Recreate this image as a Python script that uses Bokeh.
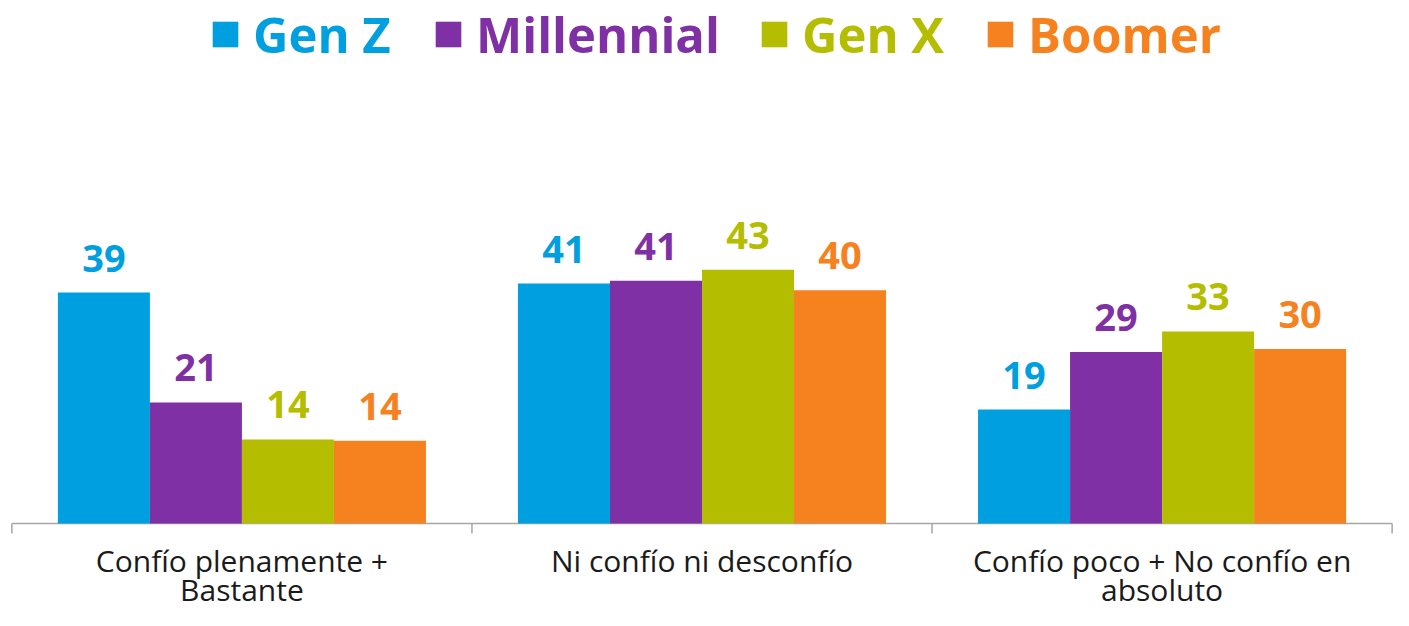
from bokeh.plotting import figure
from bokeh.models import ColumnDataSource, FactorRange, Range1d, LabelSet, Legend, LegendItem
from bokeh.transform import dodge
from bokeh.core.properties import value
from bokeh.embed import file_html
from bokeh.resources import INLINE

# ---------------- data ----------------
categories = [
    "Confío plenamente + Bastante",
    "Ni confío ni desconfío",
    "Confío poco + No confío en absoluto",
]
category_line1 = ["Confío plenamente +", "Ni confío ni desconfío", "Confío poco + No confío en"]
category_line2 = ["Bastante", "", "absoluto"]
series_names = ["Gen Z", "Millennial", "Gen X", "Boomer"]
gen_z = [39.3, 40.85, 19.4]
millennial = [20.6, 41.3, 29.2]
gen_x = [14.3, 43.2, 32.7]
boomer = [14.1, 39.7, 29.7]
series_values = [gen_z, millennial, gen_x, boomer]
colors = ["#009FDF", "#7F30A5", "#B5BD00", "#F5821F"]

FONT = "Open Sans"
PX = 5.875            # pixels per unit
H = 610
BASE = 523            # baseline position from top of figure

p = figure(
    x_range=FactorRange(factors=categories, range_padding=0.002),
    y_range=Range1d(-(H - BASE) / PX, BASE / PX),
    width=1393, height=H,
    output_backend="svg", toolbar_location=None,
    x_axis_location=None, y_axis_location=None,
    min_border_left=10, min_border_right=0, min_border_top=0, min_border_bottom=0,
    outline_line_color=None,
)
p.grid.visible = False

# baseline and category boundary ticks
n = len(categories)
p.segment(x0=[0], x1=[n], y0=[0], y1=[0], line_color="#A6A6A6", line_width=1.5)
bounds = list(range(n + 1))
p.segment(x0=bounds, x1=bounds, y0=[0] * len(bounds), y1=[-10 / PX] * len(bounds),
          line_color="#A6A6A6", line_width=1.5)

# category labels (two lines)
lab_src = ColumnDataSource(dict(cat=categories, l1=category_line1, l2=category_line2))
p.text(x="cat", y=-37 / PX, text="l1", source=lab_src, text_align="center",
       text_baseline="alphabetic", text_font=value(FONT), text_font_size="30px",
       text_color="#1A1A1A")
p.text(x="cat", y=-66 / PX, text="l2", source=lab_src, text_align="center",
       text_baseline="alphabetic", text_font=value(FONT), text_font_size="30px",
       text_color="#1A1A1A")

offsets = [-0.3, -0.1, 0.1, 0.3]
legend_x = [199, 422, 748, 974]
for name, vals, col, off, lx in zip(series_names, series_values, colors, offsets, legend_x):
    src = ColumnDataSource(dict(cat=categories, val=vals, lab=[str(round(v)) for v in vals]))
    r = p.vbar(x=dodge("cat", off, range=p.x_range), top="val", width=0.2, source=src,
               fill_color=col, line_color=None)
    ls = LabelSet(x=dodge("cat", off, range=p.x_range), y="val", text="lab", source=src,
                  y_offset=21, text_align="center", text_baseline="alphabetic",
                  text_font=value(FONT), text_font_size="38px", text_font_style="bold",
                  text_color=col)
    p.add_layout(ls)
    leg = Legend(items=[LegendItem(label=name, renderers=[r])], location=(lx, 543),
                 orientation="horizontal", padding=0, margin=0,
                 glyph_width=32, glyph_height=32, label_standoff=12,
                 label_text_font=FONT, label_text_font_size="49px",
                 label_text_font_style="bold", label_text_color=col,
                 label_text_baseline="middle",
                 border_line_color=None, background_fill_alpha=0)
    p.add_layout(leg)

open("out.html", "w").write(file_html(p, INLINE))
